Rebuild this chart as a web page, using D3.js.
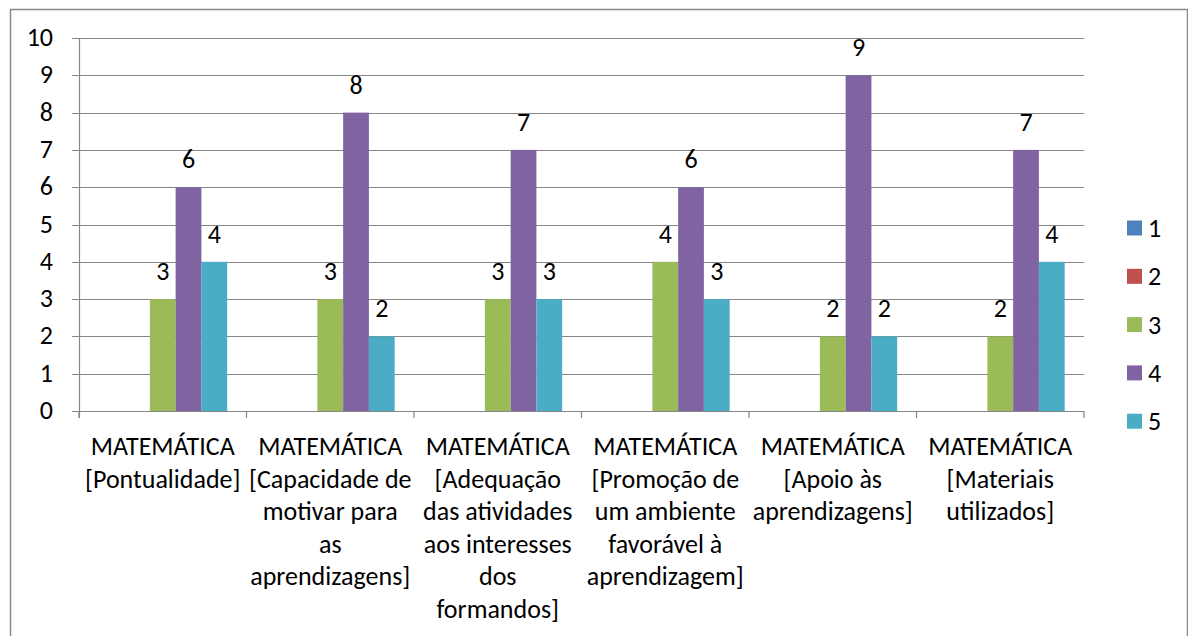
<!DOCTYPE html>
<html>
<head>
<meta charset="utf-8">
<script src="https://cdn.jsdelivr.net/npm/d3@7"></script>
<style>
  body { margin: 0; background: #fff; }
  svg text { font-family: Calibri, Carlito, Lato, sans-serif; fill: #000; }
</style>
</head>
<body>
<svg width="1188" height="636"></svg>
<script>
// category labels, already broken into lines like the original
var categories = [
    ["MATEMÁTICA", "[Pontualidade]"],
    ["MATEMÁTICA", "[Capacidade de", "motivar para", "as", "aprendizagens]"],
    ["MATEMÁTICA", "[Adequação", "das atividades", "aos interesses", "dos", "formandos]"],
    ["MATEMÁTICA", "[Promoção de", "um ambiente", "favorável à", "aprendizagem]"],
    ["MATEMÁTICA", "[Apoio às", "aprendizagens]"],
    ["MATEMÁTICA", "[Materiais", "utilizados]"]
];
var seriesNames = ["1", "2", "3", "4", "5"];
var s1 = [0, 0, 0, 0, 0, 0];
var s2 = [0, 0, 0, 0, 0, 0];
var s3 = [3, 3, 3, 4, 2, 2];
var s4 = [6, 8, 7, 6, 9, 7];
var s5 = [4, 2, 3, 3, 2, 4];
var yTicks = [0, 1, 2, 3, 4, 5, 6, 7, 8, 9, 10];
var colors = ["#4F81BD", "#C0504D", "#9BBB59", "#8064A2", "#4BACC6"];

var seriesValues = [s1, s2, s3, s4, s5];
var fontSize = "26px";

var svg = d3.select("svg");

// outer chart border (right edge sits on the last pixel, so it looks lighter)
svg.append("rect")
    .attr("x", 10.5).attr("y", 9.5)
    .attr("width", 1177).attr("height", 640)
    .attr("fill", "none")
    .attr("stroke", "#8a8a8a")
    .attr("stroke-width", 1.5);

var plotLeft = 79, plotRight = 1084, plotTop = 38, plotBottom = 411;

var x0 = d3.scaleBand()
    .domain(d3.range(categories.length))
    .range([plotLeft, plotRight]);

var x1 = d3.scaleBand()
    .domain(seriesNames)
    .range([0, x0.bandwidth()])
    .paddingOuter(0.75);

var y = d3.scaleLinear().domain([0, 10]).range([plotBottom, plotTop]);

// gridlines
svg.append("g").selectAll("line")
    .data(yTicks.slice(1))
    .enter().append("line")
    .attr("x1", plotLeft - 7).attr("x2", plotRight)
    .attr("y1", function (d) { return Math.round(y(d)) + 0.5; })
    .attr("y2", function (d) { return Math.round(y(d)) + 0.5; })
    .attr("stroke", "#868686")
    .attr("stroke-width", 1.2);

// y tick labels
svg.append("g").selectAll("text")
    .data(yTicks)
    .enter().append("text")
    .attr("x", 53)
    .attr("y", function (d) { return y(d) + 8; })
    .attr("text-anchor", "end")
    .style("font-size", fontSize)
    .text(function (d) { return d; });

// bars
var groups = svg.append("g").selectAll("g")
    .data(categories)
    .enter().append("g")
    .attr("transform", function (d, i) { return "translate(" + x0(i) + ",0)"; });

groups.selectAll("rect")
    .data(function (d, i) {
        return seriesNames.map(function (s, j) { return { s: s, j: j, v: seriesValues[j][i] }; });
    })
    .enter().append("rect")
    .attr("x", function (d) { return x1(d.s); })
    .attr("y", function (d) { return y(d.v); })
    .attr("width", x1.bandwidth())
    .attr("height", function (d) { return plotBottom - y(d.v); })
    .attr("fill", function (d) { return colors[d.j]; });

// value labels
groups.selectAll("text")
    .data(function (d, i) {
        return seriesNames.map(function (s, j) { return { s: s, j: j, v: seriesValues[j][i] }; })
            .filter(function (d) { return d.v > 0; });
    })
    .enter().append("text")
    .attr("x", function (d) { return x1(d.s) + x1.bandwidth() / 2; })
    .attr("y", function (d) { return y(d.v) - 19; })
    .attr("text-anchor", "middle")
    .style("font-size", fontSize)
    .text(function (d) { return d.v; });

// axes lines
svg.append("line")
    .attr("x1", plotLeft + 0.5).attr("x2", plotLeft + 0.5)
    .attr("y1", plotTop).attr("y2", plotBottom + 7)
    .attr("stroke", "#868686").attr("stroke-width", 1.2);
svg.append("line")
    .attr("x1", plotLeft - 7).attr("x2", plotRight)
    .attr("y1", plotBottom + 0.5).attr("y2", plotBottom + 0.5)
    .attr("stroke", "#868686").attr("stroke-width", 1.2);
svg.append("g").selectAll("line")
    .data(d3.range(categories.length + 1))
    .enter().append("line")
    .attr("x1", function (d) { return plotLeft + d * x0.bandwidth(); })
    .attr("x2", function (d) { return plotLeft + d * x0.bandwidth(); })
    .attr("y1", plotBottom).attr("y2", plotBottom + 7)
    .attr("stroke", "#868686").attr("stroke-width", 1.2);

// category labels
var catText = svg.append("g").selectAll("text")
    .data(categories)
    .enter().append("text")
    .attr("text-anchor", "middle")
    .style("font-size", fontSize)
    .attr("transform", function (d, i) {
        return "translate(" + (x0(i) + x0.bandwidth() / 2) + ",455)";
    });
catText.selectAll("tspan")
    .data(function (d) { return d; })
    .enter().append("tspan")
    .attr("x", 0)
    .attr("y", function (d, i) { return i * 32.5; })
    .text(function (d) { return d; });

// legend
var legend = svg.append("g").selectAll("g")
    .data(seriesNames)
    .enter().append("g")
    .attr("transform", function (d, i) { return "translate(1127," + (228 + i * 48.3) + ")"; });
legend.append("rect")
    .attr("x", 0).attr("y", -7.5)
    .attr("width", 15).attr("height", 15)
    .attr("fill", function (d, i) { return colors[i]; });
legend.append("text")
    .attr("x", 21).attr("y", 9)
    .style("font-size", fontSize)
    .text(function (d) { return d; });
</script>
</body>
</html>
